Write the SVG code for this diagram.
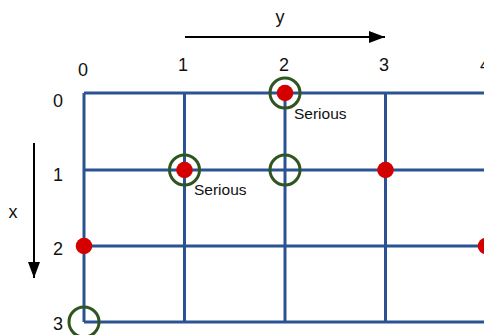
<svg xmlns="http://www.w3.org/2000/svg" width="484" height="335" viewBox="0 0 484 335">
<style>
.grid{stroke:#2b5394;stroke-width:3;fill:none}
.dot{fill:#d40000}
.ring{fill:none;stroke:#2f5620;stroke-width:3}
.lbl{font-family:"Liberation Sans",Arial,sans-serif;font-size:18px;fill:#111}
.note{font-family:"Liberation Sans",Arial,sans-serif;font-size:15.5px;fill:#111}
.axis{stroke:#000;stroke-width:2;fill:none}
</style>
<defs>
<marker id="ah" viewBox="0 0 16 12" refX="16" refY="6" markerWidth="16" markerHeight="12" markerUnits="userSpaceOnUse" orient="auto">
<path d="M0,0 L16,6 L0,12 Z" fill="#000"/>
</marker>
</defs>
<rect width="484" height="335" fill="#fff"/>
<g id="grid">
<path class="grid" d="M84,93 H490 M84,170 H490 M84,246 H490 M84,322 H490 M84,93 V322 M184.5,93 V322 M285,93 V322 M385.5,93 V322 M486,93 V322"/>
</g>
<g id="connectors">
<line class="axis" x1="185" y1="37" x2="385" y2="37" marker-end="url(#ah)"/>
<line class="axis" x1="34" y1="143" x2="34" y2="278" marker-end="url(#ah)"/>
</g>
<g id="axis-labels">
<text class="lbl" x="280" y="23" text-anchor="middle">y</text>
<text class="lbl" x="13" y="218" text-anchor="middle">x</text>
<text class="lbl" x="83" y="76" text-anchor="middle">0</text>
<text class="lbl" x="183" y="71" text-anchor="middle">1</text>
<text class="lbl" x="284" y="71" text-anchor="middle">2</text>
<text class="lbl" x="384" y="71" text-anchor="middle">3</text>
<text class="lbl" x="485" y="71" text-anchor="middle">4</text>
<text class="lbl" x="58" y="107" text-anchor="middle">0</text>
<text class="lbl" x="58" y="181" text-anchor="middle">1</text>
<text class="lbl" x="58" y="255" text-anchor="middle">2</text>
<text class="lbl" x="58" y="330" text-anchor="middle">3</text>
</g>
<g id="node-0-2">
<circle class="dot" cx="285" cy="93" r="8.3"/>
<circle class="ring" cx="285" cy="93" r="15"/>
<text class="note" x="294" y="119">Serious</text>
</g>
<g id="node-1-1">
<circle class="dot" cx="184.5" cy="170" r="8.3"/>
<circle class="ring" cx="184.5" cy="170" r="15"/>
<text class="note" x="194" y="195">Serious</text>
</g>
<g id="node-1-2">
<circle class="ring" cx="285" cy="170" r="15"/>
</g>
<g id="node-1-3">
<circle class="dot" cx="385.5" cy="170" r="8.3"/>
</g>
<g id="node-2-0">
<circle class="dot" cx="84" cy="246" r="8.3"/>
</g>
<g id="node-2-4">
<circle class="dot" cx="486" cy="246" r="8.3"/>
</g>
<g id="node-3-0">
<circle class="ring" cx="84" cy="322" r="15"/>
</g>
</svg>
